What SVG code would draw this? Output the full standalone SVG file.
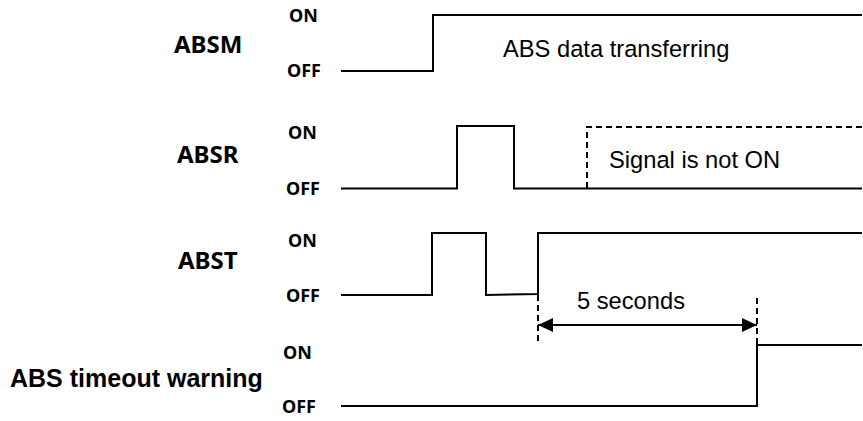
<svg xmlns="http://www.w3.org/2000/svg" width="863" height="421" viewBox="0 0 863 421">
<style>
.wave{fill:none;stroke:#000;stroke-width:2;stroke-linejoin:miter}
.dash{fill:none;stroke:#000;stroke-width:2;stroke-dasharray:6,4}
.name{font-family:"Noto Sans","Open Sans",sans-serif;font-weight:bold;font-size:24px;fill:#000}
.lvl{font-family:"Noto Sans","Open Sans",sans-serif;font-weight:bold;font-size:18px;fill:#000}
.note{font-family:"Liberation Sans",Arial,sans-serif;font-size:23.7px;fill:#000}
.namea{font-family:"Liberation Sans",Arial,sans-serif;font-weight:bold;font-size:25px;fill:#000}
</style>
<defs>
<marker id="ah" viewBox="0 0 15 14" refX="15" refY="7" markerWidth="15" markerHeight="14" markerUnits="userSpaceOnUse" orient="auto-start-reverse">
<path d="M0,0 L15,7 L0,14 Z" fill="#000"/>
</marker>
</defs>
<g id="absm">
<text class="name" x="174" y="53">ABSM</text>
<text class="lvl" x="289" y="22">ON</text>
<text class="lvl" x="287" y="77">OFF</text>
<path class="wave" d="M341,71 H433 V15 H862"/>
<text class="note" x="503" y="57">ABS data transferring</text>
</g>
<g id="absr">
<text class="name" x="177" y="163">ABSR</text>
<text class="lvl" x="288" y="139">ON</text>
<text class="lvl" x="286" y="195">OFF</text>
<path class="wave" d="M341,188.5 H457 V126 H514 V188.5 H862"/>
<path class="dash" d="M587,188 V127 H862"/>
<text class="note" x="609" y="168">Signal is not ON</text>
</g>
<g id="abst">
<text class="name" x="178" y="269">ABST</text>
<text class="lvl" x="288" y="247">ON</text>
<text class="lvl" x="286" y="302">OFF</text>
<path class="wave" d="M341,295 H432 V233 H486 V295 L538,294 V233 H862"/>
</g>
<g id="timeout">
<text class="namea" x="10" y="387">ABS timeout warning</text>
<text class="lvl" x="283" y="359">ON</text>
<text class="lvl" x="282" y="413">OFF</text>
<path class="wave" d="M341,406 H757 V345 H862"/>
</g>
<g id="connectors">
<path class="dash" d="M538,295 V342"/>
<path class="dash" d="M757,298 V345"/>
<line x1="538" y1="325" x2="757" y2="325" stroke="#000" stroke-width="2" marker-start="url(#ah)" marker-end="url(#ah)"/>
<text class="note" x="577" y="309">5 seconds</text>
</g>
</svg>
